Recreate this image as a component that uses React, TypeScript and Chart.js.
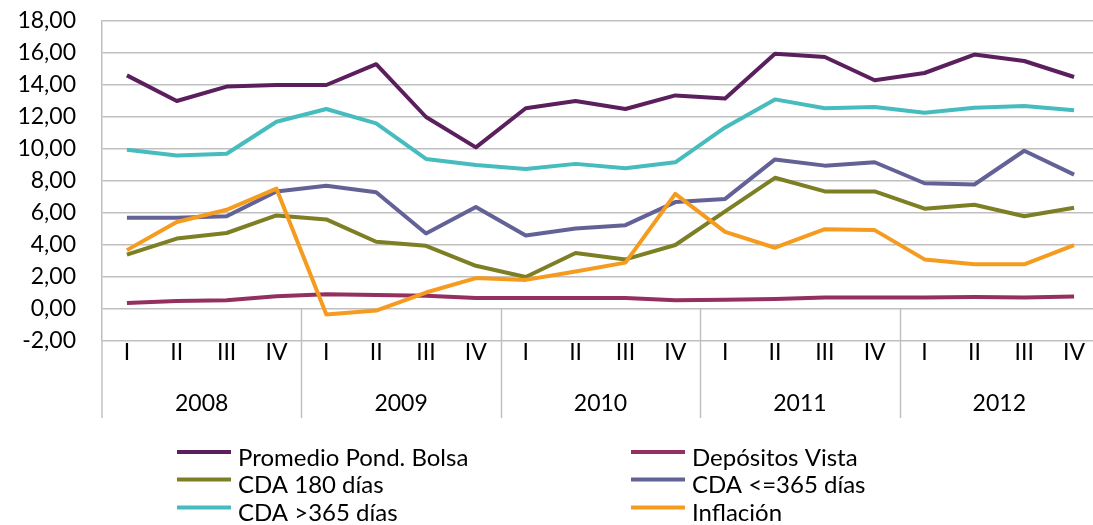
import React, { useEffect, useRef } from "react";
import { Chart, registerables } from "chart.js";

Chart.register(...registerables);

const quarters = ["I", "II", "III", "IV", "I", "II", "III", "IV", "I", "II", "III", "IV", "I", "II", "III", "IV", "I", "II", "III", "IV"];
const years = ["2008", "2009", "2010", "2011", "2012"];
const yTicks = { min: -2, max: 18, step: 2 };

const promedio = [14.6, 13.0, 13.9, 14.0, 14.0, 15.3, 12.0, 10.1, 12.55, 13.0, 12.5, 13.35, 13.15, 15.95, 15.75, 14.3, 14.75, 15.9, 15.5, 14.5];
const depositos = [0.37, 0.5, 0.55, 0.8, 0.92, 0.88, 0.83, 0.68, 0.68, 0.68, 0.68, 0.55, 0.58, 0.62, 0.72, 0.72, 0.72, 0.75, 0.72, 0.78];
const cda180 = [3.4, 4.4, 4.75, 5.85, 5.6, 4.2, 3.95, 2.7, 2.0, 3.5, 3.1, 4.0, 6.1, 8.2, 7.35, 7.35, 6.27, 6.52, 5.8, 6.33];
const cdaHasta365 = [5.7, 5.7, 5.8, 7.35, 7.7, 7.3, 4.72, 6.37, 4.6, 5.03, 5.24, 6.68, 6.88, 9.35, 8.96, 9.17, 7.86, 7.78, 9.89, 8.4];
const cdaMas365 = [9.95, 9.6, 9.7, 11.7, 12.5, 11.6, 9.38, 9.0, 8.75, 9.07, 8.8, 9.17, 11.35, 13.1, 12.55, 12.63, 12.27, 12.58, 12.69, 12.42];
const inflacion = [3.68, 5.44, 6.2, 7.52, -0.35, -0.1, 1.03, 1.93, 1.82, 2.34, 2.9, 7.2, 4.82, 3.83, 4.99, 4.93, 3.1, 2.79, 2.79, 3.99];

const seriesNames = ["Promedio Pond. Bolsa", "Depósitos Vista", "CDA 180 días", "CDA <=365 días", "CDA >365 días", "Inflación"];
const seriesData = [promedio, depositos, cda180, cdaHasta365, cdaMas365, inflacion];
const seriesColors = ["#5B1F5E", "#93305F", "#7D7F25", "#636297", "#47BCBE", "#F59B1F"];

const FONT = "Lato, 'Open Sans', sans-serif";
const FONT_SIZE = 23;
const LEGEND_FONT_SIZE = 24;
const GRID = "#c0c0c0";

const decorPlugin = {
  id: "decor",
  beforeDatasetsDraw(chart: any) {
    const ctx = chart.ctx;
    const x = chart.scales.x;
    const y = chart.scales.y;
    const zeroY = y.getPixelForValue(0);
    const bottom = 418;
    ctx.save();
    ctx.strokeStyle = GRID;
    ctx.lineWidth = 1.5;
    const half = (x.getPixelForValue(1) - x.getPixelForValue(0)) / 2;
    for (let g = 1; g < years.length; g++) {
      const px = Math.round(x.getPixelForValue(g * 4) - half) + 0.5;
      ctx.beginPath();
      ctx.moveTo(px, zeroY);
      ctx.lineTo(px, bottom);
      ctx.stroke();
    }
    const lx = chart.chartArea.left;
    ctx.beginPath();
    ctx.moveTo(lx, chart.chartArea.bottom);
    ctx.lineTo(lx, bottom);
    ctx.stroke();
    ctx.restore();
  },
  afterDraw(chart: any) {
    const ctx = chart.ctx;
    const x = chart.scales.x;
    ctx.save();
    ctx.fillStyle = "#000";
    ctx.font = `${FONT_SIZE}px ${FONT}`;
    ctx.textAlign = "center";
    ctx.textBaseline = "middle";
    quarters.forEach((q, i) => {
      ctx.fillText(q, x.getPixelForValue(i), 353);
    });
    years.forEach((yr, g) => {
      const cx = (x.getPixelForValue(g * 4) + x.getPixelForValue(g * 4 + 3)) / 2;
      ctx.fillText(yr, cx, 404);
    });
    // legend
    const cols = [177, 631];
    const rows = [452, 479.5, 507.5];
    ctx.textAlign = "left";
    ctx.font = `${LEGEND_FONT_SIZE}px ${FONT}`;
    seriesNames.forEach((name, i) => {
      const col = i % 2;
      const row = Math.floor(i / 2);
      const lx = cols[col];
      const ly = rows[row];
      ctx.strokeStyle = seriesColors[i];
      ctx.lineWidth = 4;
      ctx.beginPath();
      ctx.moveTo(lx, ly);
      ctx.lineTo(lx + 54, ly);
      ctx.stroke();
      ctx.fillStyle = "#000";
      ctx.fillText(name, lx + 61, ly + 6);
    });
    ctx.restore();
  },
};

export default function App() {
  const ref = useRef<HTMLCanvasElement>(null);
  useEffect(() => {
    document.body.style.margin = "0";
    const chart = new Chart(ref.current!, {
      type: "line",
      data: {
        labels: quarters.map((q, i) => `${years[Math.floor(i / 4)]} ${q}`),
        datasets: seriesData.map((d, i) => ({
          label: seriesNames[i],
          data: d,
          borderColor: seriesColors[i],
          backgroundColor: seriesColors[i],
          borderWidth: 4,
          pointRadius: 0,
          tension: 0,
          borderJoinStyle: "round" as const,
          borderCapStyle: "butt" as const,
          order: seriesData.length - i,
        })),
      },
      options: {
        responsive: false,
        animation: false,
        layout: { padding: { left: 0, right: 11, top: 21, bottom: 0 } },
        plugins: { legend: { display: false }, tooltip: { enabled: false } },
        scales: {
          x: {
            type: "category",
            offset: true,
            grid: { display: false, drawTicks: false },
            border: { display: false },
            ticks: { display: false },
            afterFit: (s: any) => {
              s.height = 184;
            },
          },
          y: {
            min: yTicks.min,
            max: yTicks.max,
            ticks: {
              stepSize: yTicks.step,
              autoSkip: false,
              padding: 26,
              color: "#000",
              font: { family: FONT, size: FONT_SIZE },
              callback: (v: any) => Number(v).toFixed(2).replace(".", ","),
            },
            grid: { color: GRID, lineWidth: 1.5, drawTicks: false },
            border: { display: true, color: GRID, width: 1.5 },
            afterFit: (s: any) => {
              s.width = 102;
              s.paddingTop = 12;
              s.paddingBottom = 12;
            },
          },
        },
      },
      plugins: [decorPlugin],
    });
    return () => chart.destroy();
  }, []);
  return (
    <div style={{ position: "absolute", left: 0, top: 0, width: 1093, height: 525, overflow: "hidden", background: "#fff" }}>
      <canvas ref={ref} width={1110} height={525} style={{ display: "block", width: 1110, height: 525 }} />
    </div>
  );
}
